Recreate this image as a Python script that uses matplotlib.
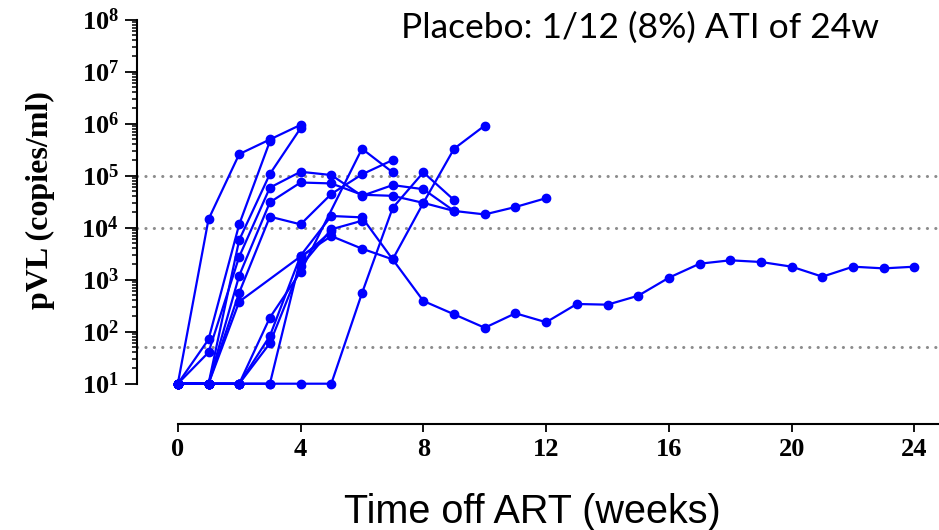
import numpy as np
import matplotlib
matplotlib.use("Agg")
import matplotlib.pyplot as plt
from matplotlib.ticker import FixedLocator, NullFormatter

# ---- data (weeks off ART, plasma viral load copies/ml) ----
p1_weeks = [0, 1, 2, 3, 4]
p1_vl = [10, 1.45e4, 2.6e5, 4.97e5, 9.5e5]

p2_weeks = [0, 1, 2, 3]
p2_vl = [10, 71, 1.16e4, 4.6e5]

p3_weeks = [0, 1, 2, 3, 4]
p3_vl = [10, 10, 5.8e3, 1.08e5, 8.2e5]

p4_weeks = [0, 1, 2, 3, 4, 5, 6, 7, 8, 9]
p4_vl = [10, 40, 2.77e3, 5.9e4, 1.19e5, 1.03e5, 4.1e4, 6.6e4, 5.5e4, 2.1e4]

p5_weeks = [0, 1, 2, 3, 4, 5, 6, 7, 8, 9, 10, 11, 12]
p5_vl = [10, 10, 1.2e3, 3.08e4, 7.4e4, 7.1e4, 4.3e4, 4.1e4, 3.0e4, 2.1e4, 1.8e4, 2.5e4, 3.7e4]

p6_weeks = [0, 1, 2, 3, 4, 5, 6, 7]
p6_vl = [10, 10, 565, 1.63e4, 1.16e4, 4.45e4, 1.06e5, 2.0e5]

p7_weeks = [0, 1, 2, 3, 4, 6, 7]
p7_vl = [10, 10, 10, 187, 1.42e3, 3.3e5, 1.16e5]

p8_weeks = [0, 1, 2, 3, 4, 5, 6, 7, 8, 9, 10]
p8_vl = [10, 10, 10, 83, 2.9e3, 1.68e4, 1.58e4, 2.46e3, 3.0e4, 3.3e5, 9.2e5]

p9_weeks = [0, 1, 2, 3, 4, 5, 6]
p9_vl = [10, 10, 10, 60, 1.8e3, 9.3e3, 1.36e4]

p10_weeks = [0, 1, 2, 3, 4, 5]
p10_vl = [10, 10, 10, 10, 2.6e3, 8.5e3]

p11_weeks = [0, 1, 2, 4, 5, 6, 7, 8, 9, 10, 11, 12, 13, 14, 15, 16, 17, 18, 19, 20, 21, 22, 23, 24]
p11_vl = [10, 10, 378, 2.8e3, 6.9e3, 3.95e3, 2.46e3, 390, 216, 119, 226, 152, 341, 331, 492,
          1092, 2030, 2360, 2190, 1780, 1143, 1780, 1650, 1780]

p12_weeks = [0, 1, 2, 3, 4, 5, 6, 7, 8, 9]
p12_vl = [10, 10, 10, 10, 10, 10, 550, 2.4e4, 1.16e5, 3.4e4]

thresholds = [1e5, 1e4, 50]
x_ticks = [0, 4, 8, 12, 16, 20, 24]
y_decades = [1, 2, 3, 4, 5, 6, 7, 8]

title_text = "Placebo: 1/12 (8%) ATI of 24w"
xlabel_text = "Time off ART (weeks)"
ylabel_text = "pVL (copies/ml)"

# ---- style ----
plt.rcParams['mathtext.fontset'] = 'custom'
plt.rcParams['mathtext.rm'] = 'Liberation Serif:bold'
plt.rcParams['mathtext.bf'] = 'Liberation Serif:bold'
plt.rcParams['mathtext.it'] = 'Liberation Serif:bold:italic'

W, H = 939, 530
fig = plt.figure(figsize=(W / 100, H / 100), dpi=100)

left_px, right_px = 137, 939
top_px, bottom_px = 19.7, 424
ax = fig.add_axes([left_px / W, 1 - bottom_px / H, (right_px - left_px) / W, (bottom_px - top_px) / H])

blue = '#0000ff'
series = [(p1_weeks, p1_vl), (p2_weeks, p2_vl), (p3_weeks, p3_vl), (p4_weeks, p4_vl),
          (p5_weeks, p5_vl), (p6_weeks, p6_vl), (p7_weeks, p7_vl), (p8_weeks, p8_vl),
          (p9_weeks, p9_vl), (p10_weeks, p10_vl), (p11_weeks, p11_vl), (p12_weeks, p12_vl)]
for wk, vl in series:
    ax.plot(wk, vl, color=blue, lw=1.6, marker='o', ms=6, mec=blue, mfc=blue, zorder=3)

for t in thresholds:
    ax.axhline(t, color='#8c8c8c', lw=2.2, linestyle=(0, (0.05, 2.7)),
               dash_capstyle='round', zorder=1)

ax.set_yscale('log')
ax.set_xlim(-1.33, 24.8)
ax.set_ylim(10 ** 0.225, 1e8)

for s in ['top', 'right']:
    ax.spines[s].set_visible(False)
ax.spines['left'].set_bounds(10, 1e8)
ax.spines['bottom'].set_bounds(0, 24.8)
ax.spines['left'].set_linewidth(1.5)
ax.spines['bottom'].set_linewidth(1.5)

major = [10.0 ** d for d in y_decades]
minor = [k * 10.0 ** d for d in y_decades[:-1] for k in range(2, 10)]
ax.yaxis.set_major_locator(FixedLocator(major))
ax.yaxis.set_minor_locator(FixedLocator(minor))
ax.yaxis.set_minor_formatter(NullFormatter())
ax.set_yticklabels([r'$10^{%d}$' % d for d in y_decades])
ax.tick_params(axis='y', which='major', length=9, width=1.3, pad=4, labelsize=19)
ax.tick_params(axis='y', which='minor', length=3.5, width=1.1)

ax.set_xticks(x_ticks)
ax.set_xticklabels([str(v) for v in x_ticks], fontfamily='Liberation Serif',
                   fontweight='bold', fontsize=19)
ax.tick_params(axis='x', which='major', length=6, width=1.3, pad=4)

fig.text(640 / W, 1 - 28 / H, title_text, ha='center', va='center',
         fontfamily='Lato', fontsize=25.5)
fig.text(532 / W, 1 - 512 / H, xlabel_text, ha='center', va='center',
         fontfamily='Liberation Sans', fontsize=28.5)
fig.text(40 / W, 1 - 200 / H, ylabel_text, ha='center', va='center', rotation=90,
         fontfamily='Liberation Serif', fontweight='bold', fontsize=23)

fig.savefig('out.png', dpi=100)
